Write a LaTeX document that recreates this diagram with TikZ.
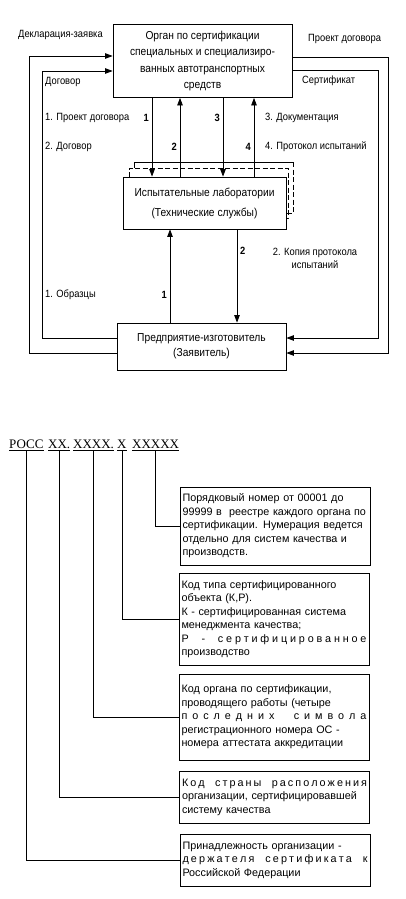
\documentclass[tikz,border=0pt]{standalone}
\usepackage{fontspec}
\setmainfont{Liberation Sans}
\newfontfamily\narrowfont[FakeStretch=0.89]{Liberation Sans}
\newfontfamily\codefont{Liberation Serif}
\usetikzlibrary{arrows.meta}
\newlength\boxtw
\setlength\boxtw{185pt}
\newcommand\jl[1]{\leavevmode\hbox to \boxtw{#1}}
\newcommand\gq{\hskip 0pt plus 1fil\relax}
\newcommand\GQ{\hskip 0.4em plus 3fil\relax}
\begin{document}
\begin{tikzpicture}[x=1pt,y=-1pt,
  box/.style={draw, line width=0.8pt, fill=white, align=center, inner sep=0pt, font=\narrowfont\fontsize{11.5}{16.5}\selectfont},
  lbl/.style={inner sep=0pt, anchor=west, font=\narrowfont\fontsize{10.5}{13}\selectfont},
  num/.style={inner sep=0pt, font=\narrowfont\bfseries\fontsize{10.5}{13}\selectfont},
  arr/.style={line width=0.8pt, -{Triangle[length=7.5pt,width=5.5pt]}},
  ln/.style={line width=0.8pt},
  dsh/.style={line width=0.8pt, dash pattern=on 5pt off 2.5pt},
  ibox/.style={draw, line width=0.8pt, minimum width=190pt, text width=185pt, inner xsep=2.5pt, inner ysep=0pt, align=left, font=\fontsize{10.8}{13.5}\selectfont},
  code/.style={inner sep=0pt, anchor=base west, font=\codefont\fontsize{13}{15}\selectfont},
  cl/.style={line width=0.7pt}
]
\path[fill=white] (0,0) rectangle (406,899);
\useasboundingbox (0,0) rectangle (406,899);

% ---------- upper diagram ----------
\node[box, minimum width=179pt, minimum height=73pt] (top) at (202.5,61)
  {Орган по сертификации\\специальных и специализиро-\\ванных автотранспортных\\средств};

\draw[ln] (134,168) -- (134,162) -- (293,162);
\draw[dsh] (293,162) -- (293,213) -- (286,213);
\draw[dsh] (129,177) -- (129,168) -- (288,168) -- (288,218) -- (286,218);

\node[box, minimum width=163pt, minimum height=52pt, font=\narrowfont\fontsize{11.5}{20}\selectfont] (lab) at (204.5,203)
  {Испытательные лаборатории\\(Технические службы)};
\node[box, minimum width=169pt, minimum height=47pt, font=\narrowfont\fontsize{11.5}{15}\selectfont] (ent) at (201.5,346.5)
  {Предприятие-изготовитель\\(Заявитель)};

\draw[arr] (152,0 |- top.south) -- (152,0 |- lab.north);
\draw[arr] (180,0 |- lab.north) -- (180,0 |- top.south);
\draw[arr] (223,0 |- top.south) -- (223,0 |- lab.north);
\draw[arr] (254,0 |- lab.north) -- (254,0 |- top.south);
\draw[arr] (170,0 |- ent.north) -- (170,0 |- lab.south);
\draw[arr] (237,0 |- lab.south) -- (237,0 |- ent.north);

\draw[arr] (ent.west |- 0,353) -| (29,56) -- (top.west |- 0,56);
\draw[arr] (ent.west |- 0,338) -| (42,71) -- (top.west |- 0,71);
\draw[arr] (top.east |- 0,57) -| (388,353) -- (ent.east |- 0,353);
\draw[arr] (top.east |- 0,70) -| (378,338) -- (ent.east |- 0,338);

\node[lbl] (l1) at (18,35) {Декларация-заявка};
\node[lbl] (l2) at (45,82) {Договор};
\node[lbl] (l3) at (45,118) {1. Проект договора};
\node[lbl] (l4) at (45,147) {2. Договор};
\node[num, anchor=east] (n1) at (149,118) {1};
\node[num, anchor=east] (n2) at (177,147) {2};
\node[num, anchor=east] (n3) at (220,118) {3};
\node[num, anchor=east] (n4) at (251,147) {4};
\node[lbl] (l5) at (265,118) {3. Документация};
\node[lbl] (l6) at (265,147) {4. Протокол испытаний};
\node[lbl] (l7) at (308,39) {Проект договора};
\node[lbl] (l8) at (302,81) {Сертификат};
\node[lbl] (l9) at (45,295) {1. Образцы};
\node[num, anchor=east] (n5) at (167,295) {1};
\node[num, anchor=west] (n6) at (240,251) {2};
\node[lbl, anchor=center, align=center] (l10) at (315,258) {2. Копия протокола\\испытаний};

% ---------- lower diagram ----------
\node[code] (c1) at (9,448) {РОСС};
\node[code] (c2) at (48,448) {XX.};
\node[code] (c3) at (73,448) {XXXX.};
\node[code] (c4) at (117,448) {X};
\node[code] (c5) at (132,448) {XXXXX};
\foreach \c in {c1,c2,c3,c4,c5}
  \draw[line width=0.6pt] ([yshift=-2pt]\c.base west) -- ([yshift=-2pt]\c.base east);

\node[ibox, minimum height=78pt] (b1) at (275,526)
  {\jl{Порядковый номер от 00001 до}\\\jl{99999 в\ \ реестре каждого органа по}\\\jl{сертификации. Нумерация ведется}\\\jl{отдельно для систем качества и}\\производств.};
\node[ibox, minimum height=92pt] (b2) at (274,619)
  {\jl{Код типа сертифицированного}\\объекта (К,Р).\\\jl{К - сертифицированная система}\\менеджмента качества;\\\jl{Р\GQ -\GQ с\gq е\gq р\gq т\gq и\gq ф\gq и\gq ц\gq и\gq р\gq о\gq в\gq а\gq н\gq н\gq о\gq е}\\производство};
\node[ibox, minimum height=86pt] (b3) at (274,717)
  {\jl{Код органа по сертификации,}\\\jl{проводящего работы (четыре}\\\jl{п\gq о\gq с\gq л\gq е\gq д\gq н\gq и\gq х\GQ с\gq и\gq м\gq в\gq о\gq л\gq а}\\\jl{регистрационного номера ОС -}\\номера аттестата аккредитации};
\node[ibox, minimum height=52pt] (b4) at (274.5,797)
  {\jl{К\gq о\gq д\GQ с\gq т\gq р\gq а\gq н\gq ы\GQ р\gq а\gq с\gq п\gq о\gq л\gq о\gq ж\gq е\gq н\gq и\gq я}\\\jl{организации, сертифицировавшей}\\систему качества};
\node[ibox, minimum height=52pt] (b5) at (275,860)
  {\jl{Принадлежность организации -}\\\jl{д\gq е\gq р\gq ж\gq а\gq т\gq е\gq л\gq я\GQ с\gq е\gq р\gq т\gq и\gq ф\gq и\gq к\gq а\gq т\gq а\GQ к}\\Российской Федерации};

\draw[cl] ([yshift=-2pt]c5.base) |- (b1.west);
\draw[cl] ([yshift=-2pt]c4.base) |- (b2.west);
\draw[cl] ([yshift=-2pt]c3.base) |- (b3.west);
\draw[cl] ([yshift=-2pt]c2.base) |- (b4.west);
\draw[cl] ([yshift=-2pt]c1.base) |- (b5.west);
\end{tikzpicture}
\end{document}
